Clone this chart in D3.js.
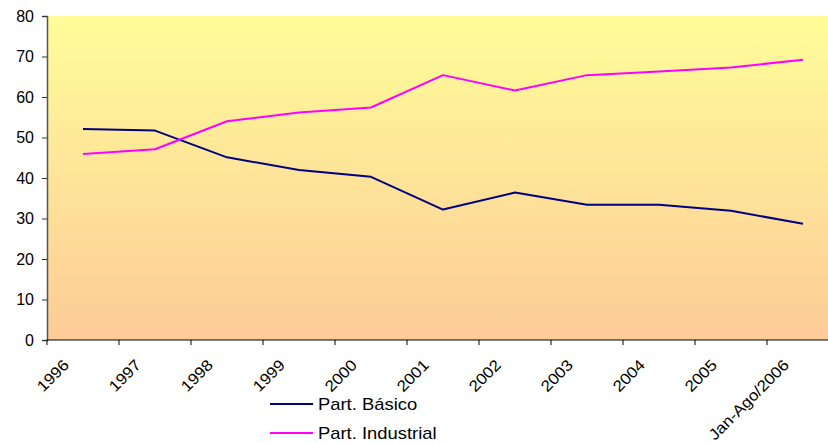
<!DOCTYPE html>
<html>
<head>
<meta charset="utf-8">
<script src="https://cdn.jsdelivr.net/npm/d3@7"></script>
<style>
  html, body { margin: 0; padding: 0; background: #ffffff; }
  svg { display: block; font-family: Arial, "Liberation Sans", sans-serif; }
</style>
</head>
<body>
<svg id="chart" width="828" height="443"></svg>
<script>
const categories = ["1996","1997","1998","1999","2000","2001","2002","2003","2004","2005","Jan-Ago/2006"];
const basico =     [52.1, 51.7, 45.1, 42.0, 40.3, 32.2, 36.4, 33.4, 33.4, 31.9, 28.7];
const industrial = [45.9, 47.1, 54.0, 56.2, 57.4, 65.4, 61.6, 65.4, 66.3, 67.3, 69.2];
const yTicks = [0, 10, 20, 30, 40, 50, 60, 70, 80];
const seriesNames = ["Part. Básico", "Part. Industrial"];
const seriesColors = ["#000080", "#FF00FF"];

const svg = d3.select("#chart");
const mLeft = 47, mRight = 839, mTop = 16, mBottom = 340;

const x = d3.scaleBand().domain(categories).range([mLeft, mRight]).padding(0);
const y = d3.scaleLinear().domain([0, 80]).range([mBottom, mTop]);

// gradient background
const defs = svg.append("defs");
const grad = defs.append("linearGradient").attr("id", "bg").attr("x1", 0).attr("y1", 0).attr("x2", 0).attr("y2", 1);
grad.append("stop").attr("offset", "0%").attr("stop-color", "#FFFD99");
grad.append("stop").attr("offset", "100%").attr("stop-color", "#FDCB98");

svg.append("rect")
  .attr("x", mLeft).attr("y", mTop)
  .attr("width", mRight - mLeft).attr("height", mBottom - mTop)
  .attr("fill", "url(#bg)");

// y axis
const yAxis = d3.axisLeft(y).tickValues(yTicks).tickSize(5).tickPadding(8).tickFormat(d3.format("d"));
const gy = svg.append("g").attr("transform", `translate(${mLeft},0)`).call(yAxis);
gy.select(".domain").attr("stroke", "#555555").attr("stroke-width", 1.5);
gy.selectAll(".tick line").attr("stroke", "#333333");
gy.selectAll(".tick text").attr("font-size", 16).attr("fill", "#000").attr("font-family", "Arial, 'Liberation Sans', sans-serif");

// x axis: ticks at band edges
const edges = categories.map(c => x(c)).concat([mRight]);
const gx = svg.append("g");
gx.append("line").attr("x1", mLeft).attr("x2", mRight).attr("y1", mBottom).attr("y2", mBottom)
  .attr("stroke", "#000").attr("stroke-width", 1.2);
gx.selectAll("line.tk").data(edges).join("line").attr("class", "tk")
  .attr("x1", d => d).attr("x2", d => d).attr("y1", mBottom).attr("y2", mBottom + 5)
  .attr("stroke", "#000");
gx.selectAll("text").data(categories).join("text")
  .attr("transform", d => `translate(${x(d) + x.bandwidth() / 2 - 13},${mBottom + 26}) rotate(-45) scale(1.1,1)`)
  .attr("text-anchor", "end")
  .attr("font-size", 15.5)
  .attr("fill", "#000")
  .text(d => d);

// lines
const line = d3.line().x((d, i) => x(categories[i]) + x.bandwidth() / 2).y(d => y(d));
[basico, industrial].forEach((s, k) => {
  svg.append("path").datum(s)
    .attr("d", line)
    .attr("fill", "none")
    .attr("stroke", seriesColors[k])
    .attr("stroke-width", 2)
    .attr("stroke-linejoin", "round");
});

// legend
const lg = svg.append("g");
seriesNames.forEach((n, k) => {
  const ly = 404 + k * 29;
  lg.append("line").attr("x1", 270).attr("x2", 313).attr("y1", ly).attr("y2", ly)
    .attr("stroke", seriesColors[k]).attr("stroke-width", 2);
  lg.append("text").attr("transform", `translate(318,${ly + 6}) scale(1.15,1)`)
    .attr("font-size", 16).attr("fill", "#000").text(n);
});
</script>
</body>
</html>
